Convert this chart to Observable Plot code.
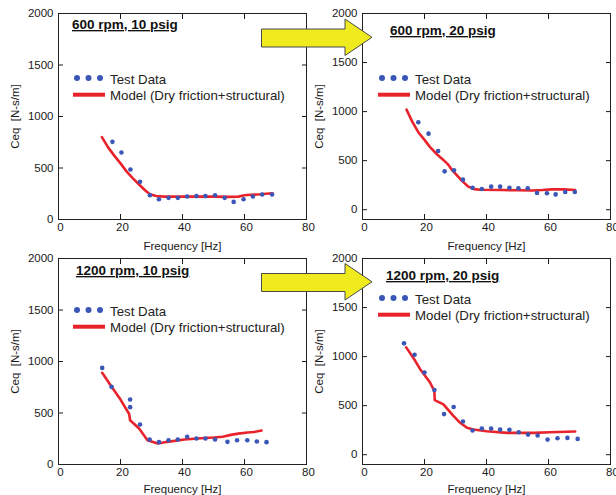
<!DOCTYPE html>
<html>
<head>
<meta charset="utf-8">
<script src="https://cdn.jsdelivr.net/npm/d3@7"></script>
<script src="https://cdn.jsdelivr.net/npm/@observablehq/plot@0.6"></script>
<style>
  body { margin: 0; background: #fff; }
  #chart { position: relative; width: 616px; height: 495px; overflow: hidden; background: #fff;
           font-family: "Liberation Sans", Arial, sans-serif; }
  #chart .panel { position: absolute; }
  #chart .overlay { position: absolute; left: 0; top: 0; pointer-events: none; }
</style>
</head>
<body>
<div id="chart"></div>
<script>
// ---------- text ----------
const titles = ["600 rpm, 10 psig", "600 rpm, 20 psig", "1200 rpm, 10 psig", "1200 rpm, 20 psig"];
const legendLabels = ["Test Data", "Model (Dry friction+structural)"];
const xLabel = "Frequency [Hz]";
const yLabel = "Ceq\u00a0 [N-s/m]";
const xTicks = [0, 20, 40, 60, 80];
const yTicks = [0, 500, 1000, 1500, 2000];

// ---------- panel 1: 600 rpm, 10 psig ----------
const p1TestFreq = [17.4, 20.3, 23.2, 26.3, 29.5, 32.4, 35.5, 38.5, 41.5, 44.5, 47.4, 50.5, 53.6, 56.5, 59.7, 62.7, 65.7, 68.9];
const p1TestCeq  = [754, 650, 485, 366, 236, 197, 210, 210, 223, 227, 227, 236, 210, 171, 197, 223, 243, 243];
const p1ModelFreq = [14.0, 16, 18, 20, 22, 24, 26, 28, 29.5, 31.5, 34, 40, 45, 50, 55, 58, 60, 62, 65, 69];
const p1ModelCeq  = [800, 700, 620, 545, 465, 400, 340, 282, 245, 228, 222, 222, 222, 222, 220, 222, 235, 240, 245, 255];

// ---------- panel 2: 600 rpm, 20 psig ----------
const p2TestFreq = [18.0, 21.3, 24.4, 26.5, 29.5, 32.4, 35.5, 38.5, 41.5, 44.4, 47.4, 50.3, 53.3, 56.3, 59.5, 62.3, 65.4, 68.5];
const p2TestCeq  = [891, 775, 598, 391, 401, 306, 224, 211, 235, 235, 224, 218, 218, 170, 167, 156, 180, 180];
const p2ModelFreq = [14.2, 16, 18, 20, 21.8, 24, 26, 27.5, 29, 31.5, 34, 36, 38, 45, 50, 55, 58, 61, 65, 68.6];
const p2ModelCeq  = [1020, 900, 790, 712, 638, 565, 510, 465, 400, 313, 238, 210, 204, 200, 198, 196, 200, 207, 207, 201];

// ---------- panel 3: 1200 rpm, 10 psig ----------
const p3TestFreq = [14.1, 17.1, 23.1, 23.1, 26.3, 29.4, 32.4, 35.5, 38.5, 41.5, 44.5, 47.4, 50.5, 54.5, 57.6, 60.9, 64.0, 67.1];
const p3TestCeq  = [938, 754, 631, 557, 388, 243, 217, 236, 243, 269, 252, 252, 243, 220, 236, 236, 223, 217];
const p3ModelFreq = [14.1, 16.8, 20, 22.8, 23.1, 26, 28.7, 32, 35.2, 40.6, 46, 50, 53, 56, 58, 61, 63, 65.5];
const p3ModelCeq  = [890, 770, 630, 490, 430, 350, 236, 204, 220, 243, 255, 262, 270, 290, 300, 310, 315, 330];

// ---------- panel 4: 1200 rpm, 20 psig ----------
const p4TestFreq = [13.4, 16.8, 20.0, 23.2, 26.3, 29.4, 32.4, 35.5, 38.5, 41.5, 44.4, 47.4, 50.4, 53.4, 56.5, 59.7, 62.9, 66.1, 69.4];
const p4TestCeq  = [1135, 1019, 838, 660, 414, 486, 339, 246, 267, 267, 256, 253, 229, 205, 195, 154, 168, 171, 161];
const p4ModelFreq = [14.1, 17.0, 18.6, 21.8, 22.9, 23.2, 23.3, 26.1, 29.4, 31.5, 33.7, 35.8, 40.1, 46.6, 55.2, 60.5, 68.6];
const p4ModelCeq  = [1094, 957, 872, 735, 667, 640, 557, 513, 393, 325, 274, 256, 239, 222, 222, 229, 236];

// ---------- styling / layout ----------
const dotColor = "#3a56b6";
const lineColor = "#e8232b";
const arrowFill = "#efeb1e";
const font = '"Liberation Sans", Arial, sans-serif';

const panels = [
  {test: [p1TestFreq, p1TestCeq], model: [p1ModelFreq, p1ModelCeq], yDomain: [0, 2000],
   left: 0, top: 0, width: 312, marginLeft: 58, labelOffset: 30, title: titles[0], titlePos: [72, 29], legendPos: [77, 78]},
  {test: [p2TestFreq, p2TestCeq], model: [p2ModelFreq, p2ModelCeq], yDomain: [-100, 2000],
   left: 300, top: 0, width: 316, marginLeft: 62, labelOffset: 30, title: titles[1], titlePos: [90, 35], legendPos: [82, 78]},
  {test: [p3TestFreq, p3TestCeq], model: [p3ModelFreq, p3ModelCeq], yDomain: [0, 2000],
   left: 0, top: 245, width: 312, marginLeft: 58, labelOffset: 28, title: titles[2], titlePos: [76, 30], legendPos: [77, 65]},
  {test: [p4TestFreq, p4TestCeq], model: [p4ModelFreq, p4ModelCeq], yDomain: [-100, 2000],
   left: 300, top: 245, width: 316, marginLeft: 62, labelOffset: 28, title: titles[3], titlePos: [86, 35], legendPos: [82, 53]}
];

const zip = ([fs, cs]) => fs.map((f, i) => ({f, c: cs[i]}));
const chart = document.getElementById("chart");
const plain = d => String(d);

for (const p of panels) {
  const svg = Plot.plot({
    width: p.width, height: 250,
    marginTop: 13, marginBottom: 31, marginLeft: p.marginLeft, marginRight: 6,
    style: {fontFamily: font, fontSize: "11.5px", color: "#1a1a1a", background: "transparent", overflow: "visible"},
    x: {domain: [0, 80]},
    y: {domain: p.yDomain},
    marks: [
      Plot.axisX({anchor: "bottom", ticks: xTicks, tickSize: -5, tickFormat: () => "", label: null}),
      Plot.axisX({anchor: "top", ticks: xTicks, tickSize: -5, tickFormat: () => "", label: null}),
      Plot.axisY({anchor: "left", ticks: yTicks, tickSize: -5, tickFormat: () => "", label: null}),
      Plot.axisY({anchor: "right", ticks: yTicks, tickSize: -5, tickFormat: () => "", label: null}),
      Plot.axisX({anchor: "bottom", ticks: xTicks, tickSize: 0, tickPadding: 3, dx: 2, tickFormat: plain,
                  fontSize: 11.5, label: xLabel, labelAnchor: "center", labelArrow: "none", labelOffset: p.labelOffset}),
      Plot.axisY({anchor: "left", ticks: yTicks, tickSize: 0, tickPadding: 5, tickFormat: plain,
                  fontSize: 11.5, label: yLabel, labelAnchor: "center", labelArrow: "none", labelOffset: 48}),
      Plot.frame({stroke: "#222", strokeWidth: 1}),
      Plot.line(zip(p.model), {x: "f", y: "c", stroke: lineColor, strokeWidth: 2.6, curve: "linear"}),
      Plot.dot(zip(p.test), {x: "f", y: "c", r: 2.3, fill: dotColor})
    ]
  });
  const wrap = document.createElement("div");
  wrap.className = "panel";
  wrap.style.left = p.left + "px";
  wrap.style.top = p.top + "px";
  wrap.appendChild(svg);
  chart.appendChild(wrap);
}

// ---------- overlay: titles, legends, arrows ----------
const ov = d3.create("svg").attr("class", "overlay").attr("width", 616).attr("height", 495)
  .style("font-family", font);

for (const p of panels) {
  const g = ov.append("g").attr("transform", `translate(${p.left},${p.top})`);
  g.append("text").attr("x", p.titlePos[0]).attr("y", p.titlePos[1])
    .attr("font-size", 13.5).attr("font-weight", "bold").attr("fill", "#111")
    .attr("text-decoration", "underline").text(p.title);
  const [lx, ly] = p.legendPos;
  g.selectAll("circle.leg").data([0, 1, 2]).join("circle")
    .attr("cx", i => lx + i * 11.5).attr("cy", ly).attr("r", 3).attr("fill", dotColor);
  g.append("line").attr("x1", lx - 4).attr("x2", lx + 28).attr("y1", ly + 16.7).attr("y2", ly + 16.7)
    .attr("stroke", lineColor).attr("stroke-width", 4);
  g.append("text").attr("x", lx + 33).attr("y", ly + 6.2).attr("font-size", 13.3).attr("fill", "#222").text(legendLabels[0]);
  g.append("text").attr("x", lx + 33).attr("y", ly + 21.5).attr("font-size", 13.3).attr("fill", "#222").text(legendLabels[1]);
}

// block arrows between the left and right panels
const arrowShape = [[0, 10], [83.5, 10], [83.5, 0], [110.5, 18.3], [83.5, 36.5], [83.5, 28], [0, 28]];
for (const [ax, ay] of [[261.5, 19], [261.5, 263.5]]) {
  ov.append("polygon")
    .attr("points", arrowShape.map(([x, y]) => `${ax + x},${ay + y}`).join(" "))
    .attr("fill", arrowFill).attr("stroke", "#4a4a4a").attr("stroke-width", 1);
}
chart.appendChild(ov.node());
</script>
</body>
</html>
